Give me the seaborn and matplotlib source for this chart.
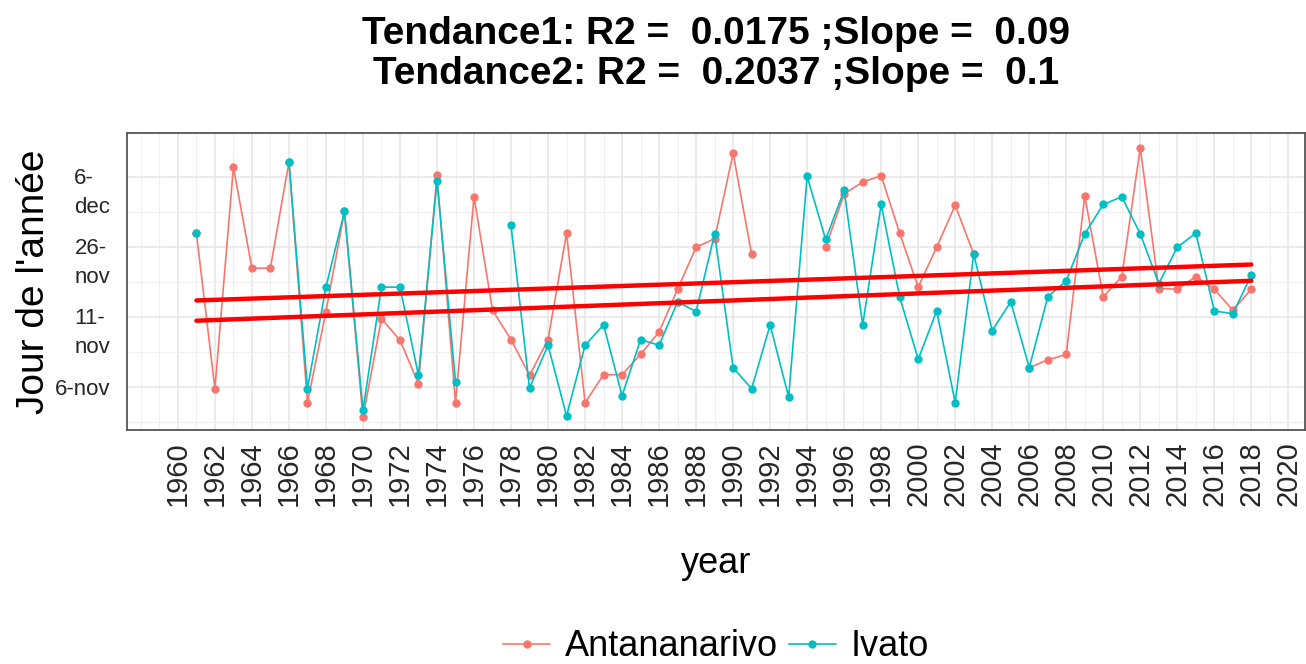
import numpy as np
import pandas as pd
import matplotlib
matplotlib.use("Agg")
import matplotlib.pyplot as plt
from matplotlib.transforms import ScaledTranslation
import seaborn as sns

# ---- data (day of year, 310 = 6-nov) ----
years = list(range(1961, 2019))
antananarivo = [
    332.0, 309.8, 341.4, 327.0, 327.0, 342.2, 307.8, 320.8, 335.1, 305.7,   # 1961-1970
    319.8, 316.7, 310.5, 340.3, 307.8, 337.2, 321.0, 316.8, 311.7, 316.8,   # 1971-1980
    332.0, 307.8, 311.8, 311.8, 314.7, 317.9, 324.0, 330.0, 331.2, 343.4,   # 1981-1990
    329.0, np.nan, np.nan, np.nan, 330.0, 337.6, 339.3, 340.2, 332.0, 324.3,  # 1991-2000
    330.0, 336.0, 329.0, np.nan, np.nan, 312.8, 313.9, 314.7, 337.3, 322.9,  # 2001-2010
    325.8, 344.2, 324.1, 324.0, 325.8, 324.0, 321.0, 324.0,                  # 2011-2018
]
ivato = [
    332.0, np.nan, np.nan, np.nan, np.nan, 342.2, 309.8, 324.3, 335.1, 306.7,  # 1961-1970
    324.3, 324.3, 311.7, 339.5, 310.8, np.nan, np.nan, 333.1, 309.9, 316.0,  # 1971-1980
    305.9, 316.0, 318.9, 308.8, 316.8, 316.0, 322.2, 320.8, 331.9, 312.8,   # 1981-1990
    309.8, 318.9, 308.6, 340.1, 331.1, 338.1, 318.9, 336.1, 322.9, 314.0,   # 1991-2000
    320.9, 307.8, 329.0, 318.1, 322.2, 312.8, 322.9, 325.2, 331.9, 336.1,   # 2001-2010
    337.2, 331.9, 324.8, 330.0, 332.0, 320.9, 320.5, 326.0,                 # 2011-2018
]
stations = ["Antananarivo", "Ivato"]
palette = {"Antananarivo": "#F8766D", "Ivato": "#00BFC4"}

# trend lines: slope from the title, level at 1990
trend_names = ["Tendance1", "Tendance2"]
trend_r2 = ["0.0175", "0.2037"]
trend_slope = [0.09, 0.1]
trend_level_1990 = [325.0, 322.4]

x_ticks = list(range(1960, 2021, 2))
y_ticks = [310, 320, 330, 340]
y_tick_labels = ["6-nov", "11-\nnov", "26-\nnov", "6-\ndec"]

# ---- long table, one "segment" per run of non-missing values (keeps the gaps) ----
df = pd.DataFrame({
    "year": years * 2,
    "station": [stations[0]] * len(years) + [stations[1]] * len(years),
    "day": antananarivo + ivato,
})
df["segment"] = df.groupby("station")["day"].transform(lambda s: s.isna().cumsum())
df = df.dropna(subset=["day"])

sns.set_theme(style="white")
plt.rcParams["font.family"] = ["Liberation Sans", "DejaVu Sans"]
plt.rcParams["text.color"] = "black"
plt.rcParams["axes.labelcolor"] = "black"

fig = plt.figure(figsize=(13.06, 6.64), dpi=100)
ax = fig.add_axes([127 / 1306, 1 - 430 / 664, 1178 / 1306, 297 / 664])

sns.lineplot(
    data=df, x="year", y="day", hue="station", hue_order=stations,
    units="segment", estimator=None, palette=palette,
    marker="o", markersize=6, markeredgewidth=0, linewidth=1.2, ax=ax,
)

yr = np.array(years)
for slope, level in zip(trend_slope, trend_level_1990):
    sns.lineplot(x=yr, y=level + slope * (yr - 1990), color="red",
                 linewidth=3.2, ax=ax, zorder=5, legend=False)

ax.set_xlim(1957.25, 2020.9)
ax.set_ylim(303.9, 346.3)
ax.set_xticks(x_ticks)
ax.set_xticklabels([str(t) for t in x_ticks], rotation=90, fontsize=21, color="#262626")
ax.set_xticks(list(range(1958, 2021)), minor=True)
ax.set_yticks(y_ticks)
ax.set_yticklabels(y_tick_labels, fontsize=16, color="#262626")
ax.set_yticks([305, 315, 325, 335], minor=True)

ax.grid(which="major", color="#E6E6E6", linewidth=1.1)
ax.grid(which="minor", color="#F0F0F0", linewidth=0.8)
ax.set_axisbelow(True)
ax.tick_params(which="major", length=5, width=1, color="#333333")
ax.tick_params(axis="y", which="major", pad=7)
ax.tick_params(axis="x", which="major", pad=3)
ax.tick_params(which="minor", length=0)
for sp in ax.spines.values():
    sp.set_color("#555555")
    sp.set_linewidth(1.3)

# first line of each wrapped y label sits level with its tick
for lab in ax.get_yticklabels():
    lab.set_verticalalignment("center_baseline")
    lab.set_multialignment("left")
    lab.set_linespacing(1.5)
    if "\n" in lab.get_text():
        lab.set_transform(lab.get_transform() + ScaledTranslation(0, -7 / 72, fig.dpi_scale_trans))

ax.set_xlabel("year", fontsize=26)
ax.xaxis.set_label_coords(0.5, -0.39)
ax.set_ylabel("Jour de l'année", fontsize=28)
ax.yaxis.set_label_coords(-0.064, 0.5)

for i, (name, r2, slope) in enumerate(zip(trend_names, trend_r2, trend_slope)):
    fig.text(0.548, 1 - (44 + 40 * i) / 664, f"{name}: R2 =  {r2} ;Slope =  {slope:g}",
             ha="center", va="baseline", fontsize=28, fontweight="bold")

sns.move_legend(
    ax, "center", bbox_to_anchor=(0.5, -0.73), ncol=2, frameon=False, title=None,
    fontsize=26, handlelength=1.3, handletextpad=0.4, columnspacing=0.3,
)

fig.savefig("out.png", dpi=100)
